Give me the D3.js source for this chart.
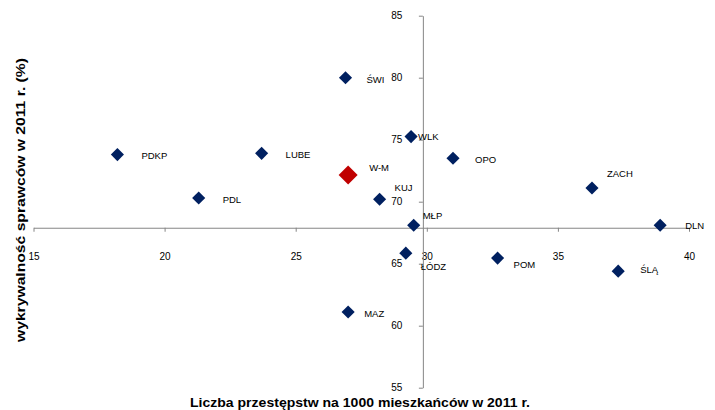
<!DOCTYPE html>
<html><head><meta charset="utf-8">
<script src="https://cdn.jsdelivr.net/npm/d3@7"></script>
<style>
html,body{margin:0;padding:0;background:#fff;}
svg{display:block;font-family:"Liberation Sans",Arial,sans-serif;}
</style></head>
<body><svg id="c" width="715" height="410"></svg>
<script>
const regions = ["ŚWI","PDKP","LUBE","W-M","PDL","WLK","OPO","ZACH","KUJ","MŁP","DLN","ŁÓDZ","POM","ŚLĄ","MAZ"];
const crimeRate = [26.9,18.2,23.7,27.0,21.3,29.4,31.0,36.3,28.2,29.5,38.9,29.2,32.7,37.3,27.0];
const detection = [80.0,73.8,73.9,72.15,70.3,75.25,73.5,71.1,70.2,68.1,68.1,65.85,65.45,64.4,61.1];
const highlight = ["W-M"];
const xTicks = [15,20,25,30,35,40];
const yTicks = [55,60,65,70,75,80,85];
const xCross = 29.85, yCross = 67.9;
const xTitle = "Liczba przestępstw na 1000 mieszkańców w 2011 r.";
const yTitle = "wykrywalność sprawców w 2011 r. (%)";

// label offsets [dx, dy] relative to point (layout only)
const labelPos = {"ŚWI":[21,2],"PDKP":[24,1],"LUBE":[24,1],"W-M":[21,-7],"PDL":[24,2],"WLK":[7,0],"OPO":[22,1],
"ZACH":[15,-14],"KUJ":[15,-12],"MŁP":[9,-10],"DLN":[25,0],"ŁÓDZ":[15,13.5],"POM":[16,7],"ŚLĄ":[22,-1],"MAZ":[16,2]};

const svg = d3.select("#c");
const x = d3.scaleLinear().domain([15,40]).range([33.5,689]);
const y = d3.scaleLinear().domain([55,85]).range([387.7,15.7]);
const axisColor = "#868686";

const gx = svg.append("g").attr("transform",`translate(0,${y(yCross)})`)
  .call(d3.axisBottom(x).tickValues(xTicks).tickSize(4).tickSizeOuter(0).tickPadding(21.5));
const gy = svg.append("g").attr("transform",`translate(${x(xCross)},0)`)
  .call(d3.axisLeft(y).tickValues(yTicks).tickSize(4).tickSizeOuter(0).tickPadding(16.5));
[gx,gy].forEach(g=>{
  g.select(".domain").attr("stroke",axisColor);
  g.selectAll(".tick line").attr("stroke",axisColor);
  g.selectAll(".tick text").attr("fill","#000").style("font-size","10px")
   .style("font-family","'Liberation Sans',Arial,sans-serif");
});

const data = regions.map((r,i)=>({r, cx:crimeRate[i], dy:detection[i]}));
const blue = d3.symbol().type(d3.symbolSquare).size(86)();
const red = d3.symbol().type(d3.symbolSquare).size(180)();
svg.append("g").selectAll("path").data(data).join("path")
  .attr("d",d=>highlight.includes(d.r)?red:blue)
  .attr("transform",d=>`translate(${x(d.cx)},${y(d.dy)}) rotate(45)`)
  .attr("fill",d=>highlight.includes(d.r)?"#C00000":"#002060");

svg.append("g").selectAll("text").data(data).join("text")
  .attr("x",d=>x(d.cx)+labelPos[d.r][0])
  .attr("y",d=>y(d.dy)+labelPos[d.r][1])
  .attr("dy","0.35em")
  .style("font-size","9.5px")
  .attr("fill","#000")
  .text(d=>d.r);

svg.append("text").attr("x",360).attr("y",402).attr("text-anchor","middle")
  .attr("textLength",340).attr("lengthAdjust","spacingAndGlyphs")
  .attr("dy","0.35em").style("font-size","13.5px").style("font-weight","bold").text(xTitle);
svg.append("text").attr("transform","translate(20,200) rotate(-90)").attr("text-anchor","middle")
  .attr("textLength",284).attr("lengthAdjust","spacingAndGlyphs")
  .attr("dy","0.35em").style("font-size","13px").style("font-weight","bold").text(yTitle);
</script></body></html>
